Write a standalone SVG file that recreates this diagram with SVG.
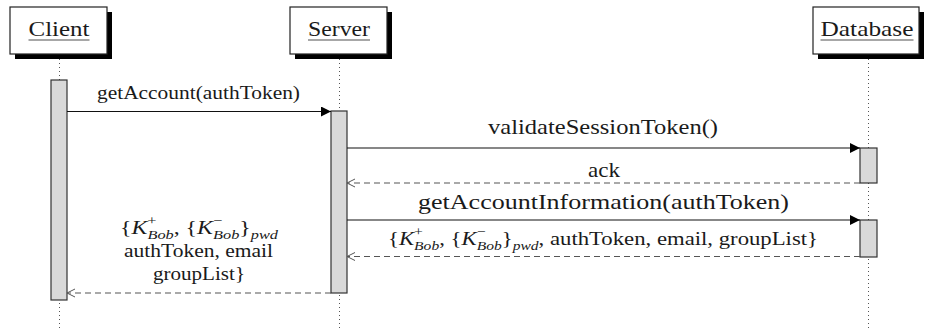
<svg xmlns="http://www.w3.org/2000/svg" width="926" height="329" viewBox="0 0 926 329">
<style>
text{font-family:"Liberation Serif","DejaVu Serif","Times New Roman",serif;fill:#1a1a1a}
.hd{font-size:22px;text-anchor:middle}
.lg{font-size:22px;text-anchor:middle}
.n{font-size:19px;text-anchor:middle}
.it{font-style:italic}
.sc{font-size:13px}
.box{fill:#fff;stroke:#222;stroke-width:1.2}
.shadow{fill:#000}
.ul{stroke:#8a8a8a;stroke-width:1.6}
.life{stroke:#555;stroke-width:1;stroke-dasharray:1 3;fill:none}
.act{fill:#d9d9d9;stroke:#333;stroke-width:1.2}
.call{stroke:#111;stroke-width:1.2;fill:none}
.ret{stroke:#555;stroke-width:1.2;stroke-dasharray:6 4;fill:none}
</style>
<defs>
<marker id="fa" markerUnits="userSpaceOnUse" markerWidth="11" markerHeight="11" refX="10" refY="5" orient="auto"><path d="M0,0 L10,5 L0,10 z" fill="#000"/></marker>
<marker id="oa" markerUnits="userSpaceOnUse" markerWidth="10" markerHeight="10" refX="8" refY="4.5" orient="auto"><path d="M0,0.5 L8,4.5 L0,8.5" fill="none" stroke="#555" stroke-width="1"/></marker>
</defs>

<g id="lifelines">
<line class="life" x1="59.5" y1="59" x2="59.5" y2="329"/>
<line class="life" x1="339.5" y1="59" x2="339.5" y2="329"/>
<line class="life" x1="868.5" y1="59" x2="868.5" y2="329"/>
</g>

<g id="client">
<rect class="shadow" x="15" y="12" width="97" height="47"/>
<rect class="box" x="10" y="7" width="97" height="47"/>
<text class="hd" x="59" y="36" textLength="61" lengthAdjust="spacingAndGlyphs">Client</text>
<line class="ul" x1="28.5" y1="40" x2="89.5" y2="40"/>
<rect class="act" x="51" y="80" width="16" height="220"/>
</g>

<g id="server">
<rect class="shadow" x="295" y="12" width="97" height="47"/>
<rect class="box" x="290" y="7" width="97" height="47"/>
<text class="hd" x="339" y="36" textLength="62" lengthAdjust="spacingAndGlyphs">Server</text>
<line class="ul" x1="308" y1="40" x2="370" y2="40"/>
<rect class="act" x="331" y="111" width="16" height="182"/>
</g>

<g id="database">
<rect class="shadow" x="818" y="12" width="106" height="47"/>
<rect class="box" x="813" y="7" width="106" height="47"/>
<text class="hd" x="867" y="36" textLength="93" lengthAdjust="spacingAndGlyphs">Database</text>
<line class="ul" x1="820.5" y1="40" x2="913.5" y2="40"/>
<rect class="act" x="860" y="148" width="17" height="35"/>
<rect class="act" x="860" y="220" width="17" height="37"/>
</g>

<g id="connectors">
<line class="call" x1="67" y1="111.5" x2="331" y2="111.5" marker-end="url(#fa)"/>
<line class="call" x1="347" y1="148" x2="860" y2="148" marker-end="url(#fa)"/>
<line class="ret" x1="860" y1="183" x2="347" y2="183" marker-end="url(#oa)"/>
<line class="call" x1="347" y1="220" x2="860" y2="220" marker-end="url(#fa)"/>
<line class="ret" x1="860" y1="256.5" x2="347" y2="256.5" marker-end="url(#oa)"/>
<line class="ret" x1="331" y1="293" x2="67" y2="293" marker-end="url(#oa)"/>
</g>

<g id="labels">
<text class="n" x="198.5" y="99" textLength="203" lengthAdjust="spacingAndGlyphs">getAccount(authToken)</text>
<text class="lg" x="603" y="134" textLength="230" lengthAdjust="spacingAndGlyphs">validateSessionToken()</text>
<text class="lg" x="604" y="177" textLength="32" lengthAdjust="spacingAndGlyphs">ack</text>
<text class="lg" x="603.5" y="209" textLength="371" lengthAdjust="spacingAndGlyphs">getAccountInformation(authToken)</text>
<text class="n" x="603" y="245" textLength="430" lengthAdjust="spacingAndGlyphs">{<tspan class="it">K</tspan><tspan class="sc" dy="-9">+</tspan><tspan class="sc it" dx="-7.3" dy="14">Bob</tspan><tspan dy="-5">, {</tspan><tspan class="it">K</tspan><tspan class="sc" dy="-9">−</tspan><tspan class="sc it" dx="-7.3" dy="14">Bob</tspan><tspan dy="-5">}</tspan><tspan class="sc it" dy="5">pwd</tspan><tspan dy="-5">, authToken, email, groupList}</tspan></text>
<text class="n" x="199" y="234" textLength="158" lengthAdjust="spacingAndGlyphs">{<tspan class="it">K</tspan><tspan class="sc" dy="-9">+</tspan><tspan class="sc it" dx="-7.3" dy="14">Bob</tspan><tspan dy="-5">, {</tspan><tspan class="it">K</tspan><tspan class="sc" dy="-9">−</tspan><tspan class="sc it" dx="-7.3" dy="14">Bob</tspan><tspan dy="-5">}</tspan><tspan class="sc it" dy="5">pwd</tspan></text>
<text class="n" x="198.5" y="257" textLength="149" lengthAdjust="spacingAndGlyphs">authToken, email</text>
<text class="n" x="199" y="280" textLength="92" lengthAdjust="spacingAndGlyphs">groupList}</text>
</g>
</svg>
